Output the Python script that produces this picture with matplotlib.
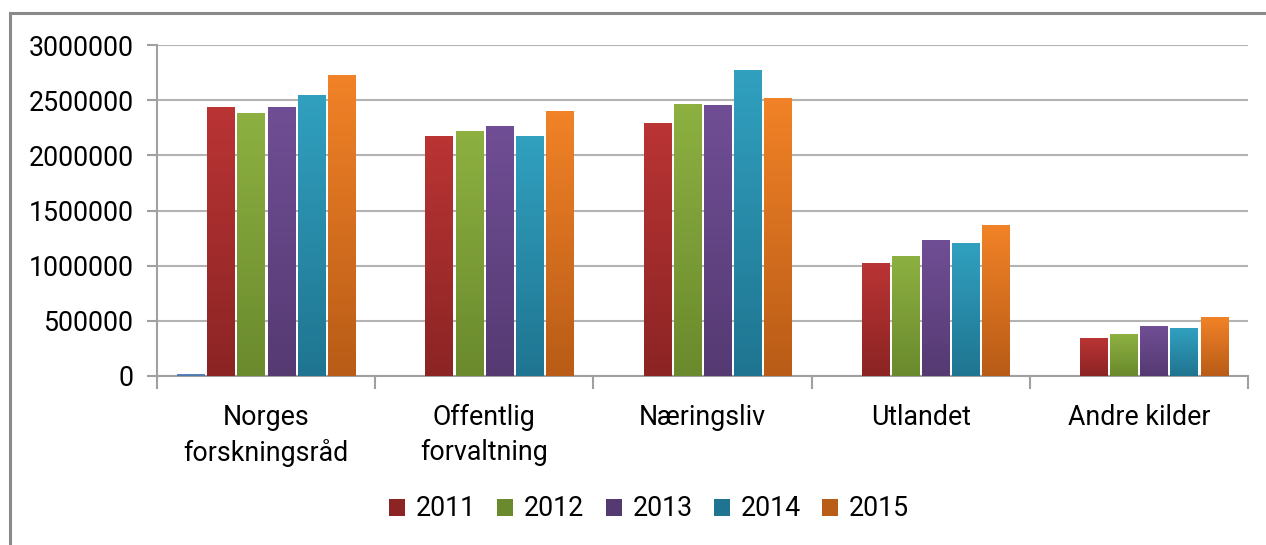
import numpy as np
import matplotlib
matplotlib.use("Agg")
import matplotlib.pyplot as plt
from matplotlib.colors import LinearSegmentedColormap
from matplotlib.lines import Line2D
from matplotlib.patches import Patch

categories = ["Norges\nforskningsråd", "Offentlig\nforvaltning", "Næringsliv", "Utlandet", "Andre kilder"]
years = ["2011", "2012", "2013", "2014", "2015"]
v_unnamed = [18000, 0, 0, 0, 0]
v2011 = [2440000, 2175000, 2290000, 1020000, 342000]
v2012 = [2380000, 2220000, 2465000, 1088000, 380000]
v2013 = [2440000, 2270000, 2453000, 1230000, 450000]
v2014 = [2547000, 2175000, 2776000, 1205000, 435000]
v2015 = [2730000, 2405000, 2520000, 1368000, 532000]
yticks = [0, 500000, 1000000, 1500000, 2000000, 2500000, 3000000]

series = [v_unnamed, v2011, v2012, v2013, v2014, v2015]
top_colors = ["#5B8AC6", "#BA3434", "#8DB041", "#704E95", "#31A0BF", "#F18227"]
bot_colors = ["#4A73A8", "#8C2424", "#6A8A2D", "#553A72", "#1F7591", "#B95C17"]

plt.rcParams['font.family'] = ['Roboto', 'DejaVu Sans']
FS = 19.3

fig = plt.figure(figsize=(12.66, 5.45), dpi=100)
ax = fig.add_axes([157/1266, 1-376/545, (1248-157)/1266, (376-45)/545])

x = np.arange(len(categories))
pitch = 0.138
width = 0.125
grad = np.linspace(0, 1, 64).reshape(-1, 1)

for i, vals in enumerate(series):
    cmap = LinearSegmentedColormap.from_list("g%d" % i, [top_colors[i], bot_colors[i]])
    offs = (i - 2.5) * pitch
    bars = ax.bar(x + offs, vals, width=width, color=bot_colors[i], zorder=3, linewidth=0)
    for b, v in zip(bars, vals):
        if v <= 0:
            continue
        x0 = b.get_x()
        im = ax.imshow(grad, extent=[x0, x0 + width, 0, v], origin='upper',
                       aspect='auto', cmap=cmap, zorder=3.1)
        im.set_clip_path(b)

ax.set_xlim(-0.5, len(categories) - 0.5)
ax.set_ylim(0, 3000000)
ax.set_yticks(yticks)
ax.set_yticklabels([str(t) for t in yticks], fontsize=FS)
ax.yaxis.grid(True, color="#B3B3B3", linewidth=1.5, zorder=0)
ax.set_axisbelow(True)

ax.set_xticks(x)
ax.set_xticklabels(categories, fontsize=FS, linespacing=1.38, va='top')
ax.set_xticks(np.arange(-0.5, len(categories)), minor=True)
ax.tick_params(axis='x', which='major', length=0, pad=20)
ax.tick_params(axis='x', which='minor', length=9, width=1.5, color="#A0A0A0")
ax.tick_params(axis='y', length=7, width=1.5, color="#A0A0A0", pad=10)

for s in ['top', 'right']:
    ax.spines[s].set_visible(False)
for s in ['left', 'bottom']:
    ax.spines[s].set_color("#A0A0A0")
    ax.spines[s].set_linewidth(1.5)

handles = [Patch(facecolor=bot_colors[i + 1], edgecolor='none') for i in range(5)]
fig.legend(handles, years, loc='center', bbox_to_anchor=(649/1266, 1-509/545),
           ncol=5, frameon=False, fontsize=FS, handlelength=0.6, handleheight=0.6,
           handletextpad=0.4, columnspacing=0.8)

# outer chart frame
fig.add_artist(Line2D([10/1266, 10/1266], [0, 1-13/545], color="#8A8A8A", linewidth=2.2,
                      transform=fig.transFigure))
fig.add_artist(Line2D([10/1266, 1], [1-13/545, 1-13/545], color="#8A8A8A", linewidth=2.2,
                      transform=fig.transFigure))

fig.savefig("out.png", dpi=100, facecolor="white")
